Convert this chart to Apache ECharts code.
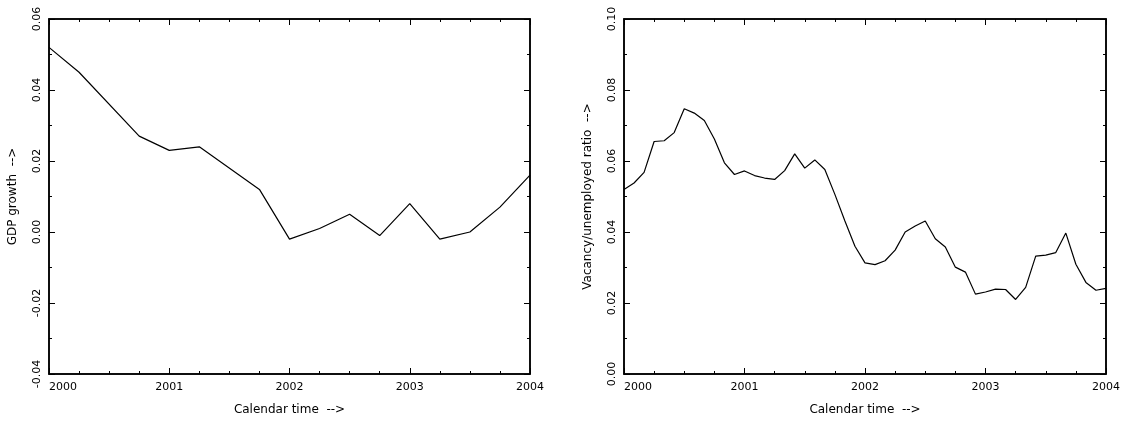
<!DOCTYPE html>
<html>
<head>
<meta charset="utf-8">
<script src="https://cdn.jsdelivr.net/npm/echarts@6/dist/echarts.min.js"></script>
<style>html,body{margin:0;padding:0;background:#fff}#c{width:1123px;height:421px}</style>
</head>
<body>
<div id="c"></div>
<script>
const gdpTime = [2000, 2000.25, 2000.75, 2001, 2001.25, 2001.75, 2002, 2002.25, 2002.5, 2002.75, 2003, 2003.25, 2003.5, 2003.75, 2004];
const gdpGrowth = [0.052, 0.045, 0.027, 0.023, 0.024, 0.012, -0.002, 0.001, 0.005, -0.001, 0.008, -0.002, 0.000, 0.007, 0.016];
const vuStart = 2000;
const vuRatio = [
    0.0520, 0.0538, 0.0568, 0.0655, 0.0657, 0.0680, 0.0747, 0.0735, 0.0714, 0.0662, 0.0595, 0.0562,
    0.0572, 0.0559, 0.0552, 0.0548, 0.0573, 0.0620, 0.0580, 0.0603, 0.0576, 0.0506, 0.0431, 0.0360,
    0.0313, 0.0308, 0.0319, 0.0349, 0.0400, 0.0417, 0.0431, 0.0381, 0.0358, 0.0301, 0.0287, 0.0225,
    0.0231, 0.0239, 0.0238, 0.0210, 0.0244, 0.0332, 0.0335, 0.0342, 0.0397, 0.0309, 0.0258, 0.0236,
    0.0241
];
const xTitle = 'Calendar time  -->';
const yTitles = ['GDP growth  -->', 'Vacancy/unemployed ratio  -->'];

const font = 'DejaVu Sans';
const black = '#000';

function xAxes(gi) {
    const base = {
        gridIndex: gi, type: 'value', min: 2000, max: 2004, interval: 1,
        axisLine: { onZero: false, lineStyle: { color: black, width: 1.5 } },
        axisTick: { inside: true, length: 6, lineStyle: { color: black } },
        minorTick: { show: true, splitNumber: 4, length: 3, lineStyle: { color: black } },
        splitLine: { show: false }
    };
    return [
        Object.assign({}, base, {
            position: 'bottom',
            name: xTitle, nameLocation: 'middle', nameGap: 30,
            nameTextStyle: { fontFamily: font, fontSize: 12, color: black },
            axisLabel: {
                fontFamily: font, fontSize: 11, color: black, margin: 8,
                alignMinLabel: 'left', formatter: v => String(v)
            }
        }),
        Object.assign({}, base, { position: 'top', axisLabel: { show: false } })
    ];
}

function yAxes(gi, min, max, interval, title) {
    const base = {
        gridIndex: gi, type: 'value', min: min, max: max, interval: interval,
        axisLine: { show: true, onZero: false, lineStyle: { color: black, width: 1.5 } },
        axisTick: { show: true, inside: true, length: 6, lineStyle: { color: black } },
        minorTick: { show: true, splitNumber: 2, length: 3, lineStyle: { color: black } },
        splitLine: { show: false }
    };
    return [
        Object.assign({}, base, {
            position: 'left',
            name: title, nameLocation: 'middle', nameGap: 30,
            nameTextStyle: { fontFamily: font, fontSize: 12, color: black },
            axisLabel: {
                fontFamily: font, fontSize: 11, color: black, rotate: 90, margin: 6,
                formatter: v => v.toFixed(2)
            }
        }),
        Object.assign({}, base, { position: 'right', axisLabel: { show: false } })
    ];
}

const vuData = vuRatio.map((v, i) => [vuStart + i / 12, v]);

const chart = echarts.init(document.getElementById('c'));
chart.setOption({
    animation: false,
    backgroundColor: '#fff',
    grid: [
        { left: 49, right: 593, top: 19, bottom: 45, show: true, borderColor: black, borderWidth: 1.5 },
        { left: 624, right: 17, top: 19, bottom: 45, show: true, borderColor: black, borderWidth: 1.5 }
    ],
    xAxis: xAxes(0).concat(xAxes(1)),
    yAxis: yAxes(0, -0.04, 0.06, 0.02, yTitles[0]).concat(yAxes(1, 0, 0.10, 0.02, yTitles[1])),
    series: [
        {
            type: 'line', xAxisIndex: 0, yAxisIndex: 0, showSymbol: false,
            lineStyle: { color: black, width: 1.2 },
            data: gdpTime.map((t, i) => [t, gdpGrowth[i]])
        },
        {
            type: 'line', xAxisIndex: 2, yAxisIndex: 2, showSymbol: false,
            lineStyle: { color: black, width: 1.2 },
            data: vuData
        }
    ]
});
</script>
</body>
</html>
